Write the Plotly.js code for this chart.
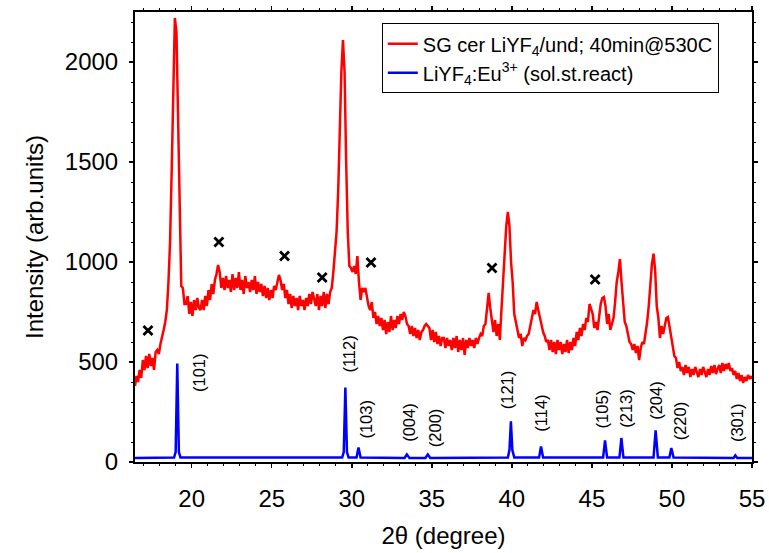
<!DOCTYPE html>
<html>
<head>
<meta charset="utf-8">
<script src="https://cdn.plot.ly/plotly-3.0.1.min.js"></script>
<style>html,body{margin:0;padding:0;background:#fff;}#chart{width:769px;height:553px;}</style>
</head>
<body>
<div id="chart"></div>
<script>
// Red: SG cer LiYF4/und; 40min@530C
var redX = [16.46,16.55,16.65,16.75,16.85,16.95,17.05,17.15,17.25,17.35,17.45,17.55,17.65,17.75,17.85,17.95,18.05,18.15,18.25,18.35,18.45,18.55,18.65,18.75,18.85,18.95,19.05,19.15,19.25,19.35,19.45,19.55,19.65,19.75,19.85,19.95,20.05,20.15,20.25,20.35,20.45,20.55,20.65,20.75,20.85,20.95,21.05,21.15,21.25,21.35,21.45,21.55,21.65,21.75,21.85,21.95,22.05,22.15,22.25,22.35,22.45,22.55,22.65,22.75,22.85,22.95,23.05,23.15,23.25,23.35,23.45,23.55,23.65,23.75,23.85,23.95,24.05,24.15,24.25,24.35,24.45,24.55,24.65,24.75,24.85,24.95,25.05,25.15,25.25,25.35,25.45,25.55,25.65,25.75,25.85,25.95,26.05,26.15,26.25,26.35,26.45,26.55,26.65,26.75,26.85,26.95,27.05,27.15,27.25,27.35,27.45,27.55,27.65,27.75,27.85,27.95,28.05,28.15,28.25,28.35,28.45,28.55,28.65,28.75,28.85,28.95,29.05,29.15,29.25,29.35,29.45,29.55,29.65,29.75,29.85,29.95,30.05,30.15,30.25,30.35,30.45,30.55,30.65,30.75,30.85,30.95,31.05,31.15,31.25,31.35,31.45,31.55,31.65,31.75,31.85,31.95,32.05,32.15,32.25,32.35,32.45,32.55,32.65,32.75,32.85,32.95,33.05,33.15,33.25,33.35,33.45,33.55,33.65,33.75,33.85,33.95,34.05,34.15,34.25,34.35,34.45,34.55,34.65,34.75,34.85,34.95,35.05,35.15,35.25,35.35,35.45,35.55,35.65,35.75,35.85,35.95,36.05,36.15,36.25,36.35,36.45,36.55,36.65,36.75,36.85,36.95,37.05,37.15,37.25,37.35,37.45,37.55,37.65,37.75,37.85,37.95,38.05,38.15,38.25,38.35,38.45,38.55,38.65,38.75,38.85,38.95,39.05,39.15,39.25,39.35,39.45,39.55,39.65,39.75,39.85,39.95,40.05,40.15,40.25,40.35,40.45,40.55,40.65,40.75,40.85,40.95,41.05,41.15,41.25,41.35,41.45,41.55,41.65,41.75,41.85,41.95,42.05,42.15,42.25,42.35,42.45,42.55,42.65,42.75,42.85,42.95,43.05,43.15,43.25,43.35,43.45,43.55,43.65,43.75,43.85,43.95,44.05,44.15,44.25,44.35,44.45,44.55,44.65,44.75,44.85,44.95,45.05,45.15,45.25,45.35,45.45,45.55,45.65,45.75,45.85,45.95,46.05,46.15,46.25,46.35,46.45,46.55,46.65,46.75,46.85,46.95,47.05,47.15,47.25,47.35,47.45,47.55,47.65,47.75,47.85,47.95,48.05,48.15,48.25,48.35,48.45,48.55,48.65,48.75,48.85,48.95,49.05,49.15,49.25,49.35,49.45,49.55,49.65,49.75,49.85,49.95,50.05,50.15,50.25,50.35,50.45,50.55,50.65,50.75,50.85,50.95,51.05,51.15,51.25,51.35,51.45,51.55,51.65,51.75,51.85,51.95,52.05,52.15,52.25,52.35,52.45,52.55,52.65,52.75,52.85,52.95,53.05,53.15,53.25,53.35,53.45,53.55,53.65,53.75,53.85,53.95,54.05,54.15,54.25,54.35,54.45,54.55,54.65,54.75,54.85,54.95,55.0];
var redY = [380,430,400,460,420,510,460,530,470,540,480,520,460,550,560,540,590,620,660,700,760,900,1100,1450,1900,2220,2150,1700,1200,880,870,790,790,830,740,800,730,810,760,820,770,760,810,760,830,780,860,810,890,840,910,940,985,950,870,920,860,930,870,910,850,940,860,920,870,950,860,910,840,930,870,900,850,910,860,930,840,900,850,890,830,880,820,870,810,860,820,880,860,900,935,910,860,890,820,860,790,840,770,830,780,820,760,830,780,810,760,820,780,840,790,850,820,780,840,760,830,780,850,770,840,790,850,870,950,1050,1150,1350,1700,1950,2110,1950,1500,1150,980,970,950,980,940,1030,900,810,870,850,870,820,780,760,800,720,750,690,730,680,720,660,710,640,700,650,730,660,710,670,730,690,740,710,750,730,690,680,640,680,630,670,620,660,610,650,660,680,690,680,670,610,660,600,650,590,630,580,620,620,570,620,580,610,560,620,570,630,550,610,560,620,535,610,570,620,580,610,570,620,590,620,640,630,680,690,760,845,770,720,650,710,630,690,610,760,900,1050,1180,1250,1180,1000,900,740,700,650,620,640,580,620,610,630,640,680,730,760,740,800,760,720,690,650,630,600,610,560,610,550,600,540,610,560,600,540,590,550,610,545,600,560,620,580,650,610,670,630,690,660,720,700,790,760,740,670,700,660,740,790,820,825,780,690,740,660,690,720,800,900,950,1015,900,780,700,680,640,600,590,560,590,545,580,510,570,600,590,640,700,780,900,990,1042,960,780,720,620,680,640,680,720,725,680,640,580,530,520,470,500,455,475,435,485,445,475,425,465,435,475,445,425,465,435,475,445,425,465,435,480,445,485,440,465,485,445,495,455,490,465,495,455,470,435,455,415,445,405,435,395,425,405,435,415,430,415];

// Blue: LiYF4:Eu3+ (sol.st.react) reference pattern
var blueX = [16.46,18.9,19.0,19.1,19.2,19.3,29.4,29.5,29.6,29.7,29.8,30.3,30.42,30.55,33.3,33.44,33.6,34.6,34.75,34.9,39.75,39.85,39.94,40.03,40.15,41.7,41.82,41.95,45.7,45.82,45.95,46.72,46.84,46.97,48.85,48.98,49.12,49.84,49.96,50.1,53.85,53.96,54.08,55.0];
var blueY = [20,22,50,492,50,22,22,50,372,50,22,22,72,22,20,38,20,20,38,20,22,60,203,60,22,22,78,22,22,108,22,22,120,22,22,158,22,22,70,22,20,33,20,20];

// Impurity markers (x)
var crossX = [17.27,21.7,25.8,28.15,31.2,38.76,45.2];
var crossY = [658,1100,1030,922,998,970,913];

// hkl labels
var hklText = ['(101)','(112)','(103)','(004)','(200)','(121)','(114)','(105)','(213)','(204)','(220)','(301)'];
var hklX = [20.46,29.84,30.9,33.6,35.25,39.75,41.84,45.63,47.15,49.03,50.5,54.07];
var hklY = [445,538,213,198,173,363,243,268,268,308,208,195];

var FONT = 'Liberation Sans, Arial, sans-serif';

var traces = [
  {x: redX, y: redY, type: 'scatter', mode: 'lines', name: 'SG cer LiYF<sub>4</sub>/und; 40min@530C',
   line: {color: '#ff0000', width: 2.5}},
  {x: blueX, y: blueY, type: 'scatter', mode: 'lines', name: 'LiYF<sub>4</sub>:Eu<sup>3+</sup> (sol.st.react)',
   line: {color: '#0000ff', width: 2.5}},
  {x: crossX, y: crossY, type: 'scatter', mode: 'markers', showlegend: false,
   marker: {symbol: 'x-thin', size: 9, color: '#000', line: {color: '#000', width: 2.8}}}
];

var annotations = hklText.map(function(t, i) {
  return {x: hklX[i], y: hklY[i], xref: 'x', yref: 'y', text: t, showarrow: false,
          textangle: -90, font: {family: FONT, size: 16.5, color: '#000'}};
});

var xr = [16.46, 55];
var yr = [0, 2250];

var layout = {
  width: 769, height: 553,
  margin: {l: 135, r: 17, t: 12, b: 91},
  paper_bgcolor: '#fff', plot_bgcolor: '#fff',
  font: {family: FONT, size: 24, color: '#000'},
  showlegend: true,
  legend: {x: 0.400, y: 0.975, xanchor: 'left', yanchor: 'top',
           bordercolor: '#000', borderwidth: 1, bgcolor: '#fff',
           font: {family: FONT, size: 20, color: '#000'}, tracegroupgap: 0},
  xaxis: {range: xr, showgrid: false, zeroline: false, showline: true, linecolor: '#000', linewidth: 2,
          mirror: 'allticks', ticks: 'outside', ticklen: 4, tickwidth: 1.5, tickcolor: '#000',
          tick0: 0, dtick: 5, ticklabelstandoff: 10,
          minor: {dtick: 1, ticks: 'outside', ticklen: 2, tickwidth: 1, tickcolor: '#000', showgrid: false},
          tickfont: {family: FONT, size: 24, color: '#000'},
          title: {text: '2\u03b8 (degree)', font: {family: FONT, size: 24, color: '#000'}, standoff: 16}},
  xaxis2: {range: xr, overlaying: 'x', anchor: 'y', side: 'bottom', showgrid: false, zeroline: false,
           showline: false, showticklabels: false, mirror: 'allticks',
           ticks: 'inside', ticklen: 4, tickwidth: 1.5, tickcolor: '#000', tick0: 0, dtick: 5,
           minor: {dtick: 1, ticks: 'inside', ticklen: 2, tickwidth: 1, tickcolor: '#000', showgrid: false}},
  yaxis: {range: yr, showgrid: false, zeroline: false, showline: true, linecolor: '#000', linewidth: 2,
          mirror: 'allticks', ticks: 'outside', ticklen: 4, tickwidth: 1.5, tickcolor: '#000',
          tick0: 0, dtick: 500, ticklabelstandoff: 6,
          minor: {dtick: 100, ticks: 'outside', ticklen: 2, tickwidth: 1, tickcolor: '#000', showgrid: false},
          tickfont: {family: FONT, size: 24, color: '#000'},
          title: {text: 'Intensity (arb.units)', font: {family: FONT, size: 24, color: '#000'}, standoff: 14}},
  yaxis2: {range: yr, overlaying: 'y', anchor: 'x', side: 'left', showgrid: false, zeroline: false,
           showline: false, showticklabels: false, mirror: 'allticks',
           ticks: 'inside', ticklen: 4, tickwidth: 1.5, tickcolor: '#000', tick0: 0, dtick: 500,
           minor: {dtick: 100, ticks: 'inside', ticklen: 2, tickwidth: 1, tickcolor: '#000', showgrid: false}},
  annotations: annotations
};

Plotly.newPlot('chart', traces, layout, {displayModeBar: false, staticPlot: true});
</script>
</body>
</html>
